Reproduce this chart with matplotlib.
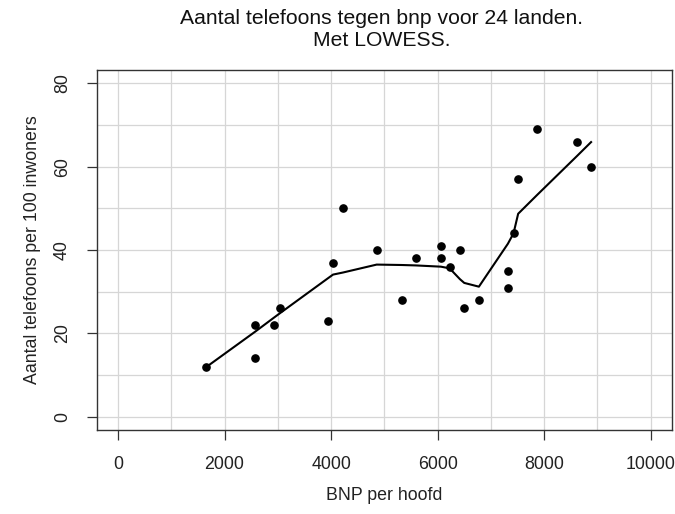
import matplotlib
matplotlib.use('Agg')
import matplotlib.pyplot as plt

# BNP per hoofd en aantal telefoons per 100 inwoners (24 landen)
bnp = [1656, 2575, 2575, 2931, 3037, 3950, 4037, 4225, 4856, 5325, 5587, 6062,
       6062, 6225, 6419, 6500, 6775, 7319, 7319, 7425, 7512, 7875, 8612, 8881]
telefoons = [12, 22, 14, 22, 26, 23, 37, 50, 40, 28, 38, 41,
             38, 36, 40, 26, 28, 35, 31, 44, 57, 69, 66, 60]

# LOWESS-fit bij elke bnp-waarde
lowess_fit = [11.9, 20.4, 20.4, 23.8, 24.8, 33.3, 34.1, 34.6, 36.5, 36.4, 36.3, 36.0,
              36.0, 35.6, 33.0, 32.1, 31.2, 41.5, 41.5, 44.0, 48.7, 53.3, 62.5, 65.9]

x_ticks = [0, 2000, 4000, 6000, 8000, 10000]
y_ticks = [0, 20, 40, 60, 80]

plt.rcParams['font.family'] = ['Liberation Sans', 'DejaVu Sans']

fig = plt.figure(figsize=(6.75, 5.14), dpi=100)
ax = fig.add_axes([96.7 / 675, 1 - 430 / 514, (672 - 96.7) / 675, (430 - 70) / 514])

# raster zoals grid() in R
for gx in range(0, 10001, 1000):
    ax.axvline(gx, color='#d6d6d6', lw=0.9, zorder=0)
for gy in range(0, 81, 10):
    ax.axhline(gy, color='#d6d6d6', lw=0.9, zorder=0)

ax.plot(bnp, telefoons, 'o', color='black', markersize=5.2, zorder=3)
ax.plot(bnp, lowess_fit, color='black', lw=1.5, zorder=2)

ax.set_xlim(-400, 10400)
ax.set_ylim(-3.2, 83.2)
ax.set_xticks(x_ticks)
ax.set_yticks(y_ticks)
ax.set_yticklabels([str(v) for v in y_ticks], rotation=90, va='center')
ax.tick_params(axis='both', labelsize=12.8, length=7.5, width=0.9, color='#333333',
               labelcolor='#222222')
ax.tick_params(axis='x', pad=11)
ax.tick_params(axis='y', pad=11)
for sp in ax.spines.values():
    sp.set_color('#333333')
    sp.set_linewidth(1.0)

fig.text(384 / 675, 1 - 495 / 514, 'BNP per hoofd', ha='center', va='center',
         fontsize=12.8, color='#222222')
fig.text(33 / 675, 1 - 250 / 514, 'Aantal telefoons per 100 inwoners', ha='center',
         va='center', rotation=90, fontsize=12.8, color='#222222')
fig.text(382 / 675, 1 - 29.5 / 514, 'Aantal telefoons tegen bnp voor 24 landen.\nMet LOWESS.',
         ha='center', va='center', fontsize=15.2, linespacing=1.15, color='#111111')

fig.savefig('out.png', dpi=100)
